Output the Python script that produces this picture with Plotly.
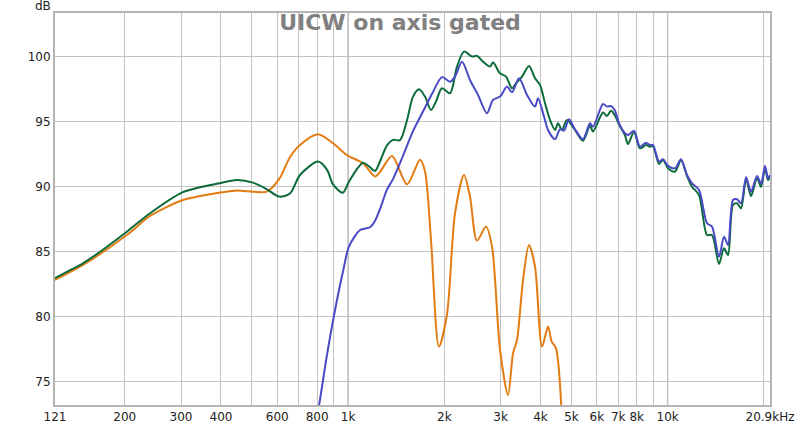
import plotly.graph_objects as go

# ---- data ----
green_f = [121, 135, 148, 167, 203, 240, 304, 344, 403, 449, 504, 557, 608, 658, 707, 805, 860, 897, 962,
           1006, 1060, 1113, 1160, 1214, 1260, 1323, 1382, 1453, 1529, 1596, 1667, 1740, 1816, 1883, 1966,
           2084, 2191, 2305, 2441, 2531, 2643, 2780, 2840, 2988, 3120, 3257, 3352, 3501, 3681, 3844, 3985,
           4132, 4283, 4440, 4537, 4669, 4840, 5127, 5431, 5713, 5838, 6274, 6457, 6646, 6842, 7041, 7352,
           7513, 7845, 8191, 8553, 8803, 8995, 9393, 9668, 10023, 10541, 11006, 11490, 11917, 12531, 13274,
           13762, 14474, 15005, 15445, 16010, 16480, 16960, 17588, 18230, 19034, 19590, 20164, 20603, 20900]
green_db = [82.98, 83.6, 84.13, 85.0, 86.56, 87.98, 89.6, 89.98, 90.33, 90.54, 90.33, 89.82, 89.26, 89.5, 90.92,
            91.95, 91.3, 90.2, 89.56, 90.4, 91.3, 91.87, 91.6, 91.23, 92.0, 93.2, 93.62, 93.6, 95.15, 96.95,
            97.51, 96.95, 95.92, 96.56, 97.59, 97.2, 99.26, 100.41, 100.03, 100.08, 99.64, 99.26, 99.59, 98.74,
            98.49, 97.59, 97.97, 98.49, 99.31, 98.36, 97.85, 96.44, 95.15, 94.38, 94.9, 94.38, 95.15, 94.38,
            93.56, 94.7, 94.26, 95.72, 95.46, 95.87, 95.5, 94.8, 93.98, 93.3, 94.23, 92.97, 93.23, 93.1, 93.15,
            91.77, 92.08, 91.44, 91.18, 92.08, 90.85, 90.02, 89.38, 86.31, 86.31, 84.08, 85.28, 84.77, 88.62,
            88.74, 88.36, 90.6, 89.3, 90.67, 90.02, 91.44, 90.54, 90.74]

blue_f = [780, 813, 857, 910, 966, 1006, 1090, 1171, 1214, 1258, 1323, 1382, 1485, 1596, 1715, 1843, 1966,
          2084, 2160, 2272, 2406, 2549, 2720, 2840, 2988, 3142, 3257, 3426, 3629, 3844, 3928, 4102, 4222,
          4440, 4603, 4737, 4911, 5127, 5431, 5713, 5838, 6274, 6457, 6646, 6842, 7041, 7352, 7513, 7845,
          8191, 8553, 8803, 8995, 9393, 9668, 10023, 10541, 11006, 11490, 11917, 12531, 13274, 13762, 14474,
          15005, 15445, 16010, 16480, 16960, 17588, 18230, 19034, 19590, 20164, 20603, 20900]
blue_db = [71.0, 73.36, 76.95, 80.54, 83.62, 85.41, 86.69, 86.9, 87.4, 88.3, 89.8, 90.6, 92.4, 94.3, 95.8,
           97.3, 98.45, 98.1, 98.49, 99.64, 98.23, 97.08, 95.67, 96.69, 96.95, 97.72, 97.28, 98.36, 97.08,
           96.18, 96.82, 95.41, 94.38, 93.67, 94.44, 94.33, 95.2, 94.44, 93.67, 94.9, 94.64, 96.38, 96.18,
           96.23, 95.87, 94.9, 94.13, 94.0, 94.33, 93.1, 93.41, 93.23, 93.23, 91.95, 92.13, 91.62, 91.44,
           92.13, 90.92, 90.28, 89.77, 87.21, 86.95, 84.64, 86.18, 85.54, 89.0, 89.05, 88.74, 90.74, 89.64,
           90.85, 90.23, 91.62, 90.67, 90.92]

orange_f = [121, 148, 203, 240, 304, 344, 403, 449, 504, 557, 608, 658, 707, 805, 897, 990, 1113, 1214, 1260,
            1372, 1529, 1679, 1740, 1816, 1924, 2039, 2160, 2305, 2406, 2531, 2701, 2820, 2988, 3165, 3281,
            3377, 3526, 3681, 3844, 4043, 4222, 4335, 4472, 4669]
orange_db = [82.85, 84.0, 86.3, 87.77, 89.0, 89.3, 89.59, 89.72, 89.64, 89.64, 90.6, 92.3, 93.23, 94.05, 93.36,
             92.46, 91.82, 90.8, 91.18, 92.38, 90.2, 92.1, 91.2, 86.0, 77.72, 80.2, 87.97, 90.92, 89.26, 85.87,
             86.95, 85.41, 77.46, 74.0, 77.2, 78.23, 82.85, 85.54, 83.87, 77.72, 79.26, 78.1, 77.59, 72.0]

x_tickvals = [121, 200, 300, 400, 600, 800, 1000, 2000, 3000, 4000, 5000, 6000, 7000, 8000, 10000, 20900]
x_ticktext = ["121", "200", "300", "400", "600", "800", "1k", "2k", "3k", "4k", "5k", "6k", "7k", "8k",
              "10k", "20.9kHz"]
x_minor_vals = [500, 700, 900, 9000, 20000]
y_tickvals = [75, 80, 85, 90, 95, 100]
major_grid_vals = [1000, 10000]

FONT = "DejaVu Sans"

fig = go.Figure()
for f, d, c in [(orange_f, orange_db, "#e27c12"), (green_f, green_db, "#0b6b3a"), (blue_f, blue_db, "#4a4ac6")]:
    fig.add_trace(go.Scatter(x=f, y=d, mode="lines",
                             line=dict(color=c, width=2, shape="spline", smoothing=0.8),
                             showlegend=False, hoverinfo="skip"))

for v in major_grid_vals:
    fig.add_shape(type="line", xref="x", yref="paper", x0=v, x1=v, y0=0, y1=1,
                  line=dict(color="#8c8c8c", width=1), layer="below")

fig.update_layout(
    width=800, height=425,
    margin=dict(l=55, r=30, t=13, b=20, autoexpand=False),
    paper_bgcolor="white", plot_bgcolor="white",
    font=dict(family=FONT, size=12, color="#222222"),
    title=dict(text="<b>UICW on axis gated</b>", x=0.5, xanchor="center", y=0.948, yanchor="middle",
               yref="container", automargin=False,
               font=dict(family=FONT, size=22, color="#808080")),
    xaxis=dict(type="log", range=[2.0828, 4.3201], tickmode="array", tickvals=x_tickvals,
               ticktext=x_ticktext, showgrid=True, gridcolor="#c2c2c2", gridwidth=1,
               minor=dict(tickmode="array", tickvals=x_minor_vals, showgrid=True,
                          gridcolor="#c2c2c2", gridwidth=1, ticks=""),
               showline=True, mirror=True, linecolor="#b4b4b4", linewidth=2, automargin=False,
               ticks="", zeroline=False, tickfont=dict(size=12)),
    yaxis=dict(range=[73.23, 103.38], tickmode="array", tickvals=y_tickvals, showgrid=True,
               gridcolor="#c2c2c2", gridwidth=1, showline=True, mirror=True, linecolor="#b4b4b4",
               linewidth=2, ticks="", zeroline=False, tickfont=dict(size=12), ticklabelstandoff=0,
               automargin=False),
    annotations=[dict(text="dB", xref="paper", yref="paper", x=-0.003, y=1.0179, xanchor="right",
                      yanchor="middle", showarrow=False, font=dict(family=FONT, size=12, color="#222222"))],
)

fig.write_html("out.html", config={"displayModeBar": False},
               post_script="document.body.style.margin='0';document.body.style.overflow='hidden';")
